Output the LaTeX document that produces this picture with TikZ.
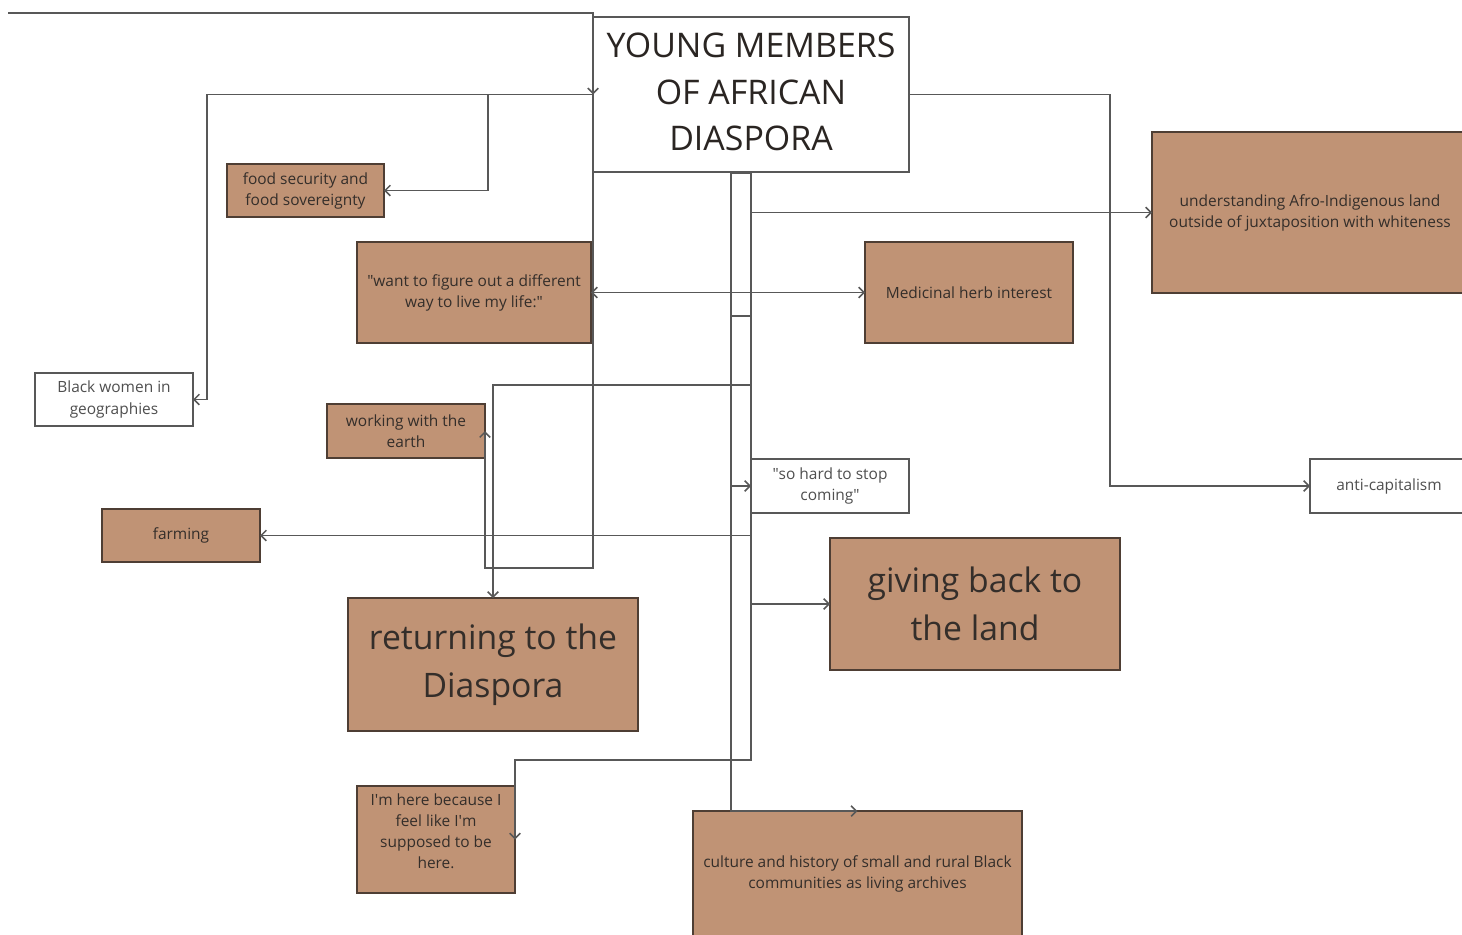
\documentclass[tikz,border=0pt]{standalone}
\usepackage{fontspec}
\setmainfont{Open Sans}
\usetikzlibrary{positioning, calc, arrows.meta}

\definecolor{clay}{RGB}{192,147,117}
\definecolor{clayedge}{RGB}{78,62,52}
\definecolor{wire}{RGB}{88,88,88}
\definecolor{ink}{RGB}{52,46,42}

\begin{document}
\begin{tikzpicture}[x=0.02cm, y=-0.02cm,
    claybox/.style={draw=clayedge, line width=0.8pt, fill=clay, text=ink, align=center, inner sep=2pt, outer sep=0pt, font=\fontsize{8.8}{12}\selectfont},
    plainbox/.style={draw=wire, line width=1pt, fill=white, text=wire!90!black, align=center, inner sep=2pt, outer sep=0pt, font=\fontsize{8.8}{12}\selectfont},
    bigtext/.style={font=\fontsize{19.2}{27.2}\selectfont},
    link/.style={draw=wire, line width=0.9pt},
    tip/.style={-{Straight Barb[length=3pt,width=6pt]}}]

    % Bild-Rahmen
    \useasboundingbox (0,0) rectangle (1462,934);
    \clip (0,0) rectangle (1462,934);

    % Hauptknoten
    \node[plainbox, text=ink!80!black, font=\fontsize{19.3}{26.4}\selectfont, minimum width=6.32cm, minimum height=3.1cm] (title) at (751,94.5) {\raisebox{0.05cm}[\height][\depth]{\parbox{6cm}{\centering YOUNG MEMBERS\\OF AFRICAN\\DIASPORA}}};

    % Knoten links
    \node[claybox, minimum width=3.14cm, minimum height=1.06cm] (food) at (305.5,190.5) {food security and\\food sovereignty};
    \node[claybox, minimum width=4.68cm, minimum height=2.02cm] (want) at (474,292.5) {\textquotedbl want to figure out a different\\way to live my life:\textquotedbl};
    \node[plainbox, minimum width=3.16cm, minimum height=1.06cm] (women) at (114,399.5) {Black women in\\geographies};
    \node[claybox, minimum width=3.16cm, minimum height=1.08cm] (earth) at (406,431) {working with the\\earth};
    \node[claybox, minimum width=3.16cm, minimum height=1.06cm] (farming) at (181,535.5) {farming};
    \node[claybox, bigtext, minimum width=5.8cm, minimum height=2.66cm] (returning) at (493,664.5) {returning to the\\Diaspora};
    \node[claybox, minimum width=3.16cm, minimum height=2.14cm] (here) at (436,839.5) {\raisebox{0.16cm}[\height][\depth]{\parbox{3cm}{\centering I\textquotesingle m here because I\\feel like I\textquotesingle m\\supposed to be\\here.}}};

    % Knoten rechts
    \node[claybox, minimum width=4.16cm, minimum height=2.02cm] (herb) at (969,292.5) {Medicinal herb interest};
    \node[claybox, minimum width=6.32cm, minimum height=3.22cm] (afro) at (1310,212.5) {understanding Afro-Indigenous land\\outside of juxtaposition with whiteness};
    \node[plainbox, minimum width=3.16cm, minimum height=1.08cm] (stop) at (830,486) {\textquotedbl so hard to stop\\coming\textquotedbl};
    \node[plainbox, minimum width=3.16cm, minimum height=1.08cm] (anticap) at (1389,486) {anti-capitalism};
    \node[claybox, bigtext, minimum width=5.8cm, minimum height=2.64cm] (giving) at (975,604) {giving back to\\the land};
    \node[claybox, minimum width=6.58cm, minimum height=2.52cm] (culture) at (857.5,874) {culture and history of small and rural Black\\communities as living archives};

    % Linie oben links
    \coordinate (topstart) at (8,13);
    \draw[link, tip] (topstart) -| (title.west);

    % links vom Titel
    \draw[link, tip] (title.west) -| ($(women.east)+(14,0)$) -- (women.east);
    \draw[link, tip] ($(title.west)+(-105,0)$) |- (food.east);
    \draw[link, tip] (title.south west) -- ++(0,396) -| (earth.east);

    % rechts vom Titel
    \draw[link, tip] (title.east) -| ($(anticap.west)+(-200,0)$) |- (anticap.west);

    % Doppelstrang unter dem Titel
    \draw[link] ($(title.south)+(-20,1)$) -- ($(title.south)+(0,1)$);
    \draw[link, tip] ($(title.south)+(-20,0)$) |- (culture.north);
    \draw[link, tip] (title.south) -- ++(0,588) -| (here.east);
    \draw[link, tip] (title.south |- 0,316) -- ++(-20,0) |- (stop.west);

    % Abzweige vom Strang
    \draw[link, tip] (title.south |- afro.west) -- (afro.west);
    \draw[link, tip] (title.south |- 0,385) -| (returning.north);
    \draw[link, tip] (title.south |- farming.east) -- (farming.east);
    \draw[link, tip] (title.south |- giving.west) -- (giving.west);

    % Pfeil in beide Richtungen
    \draw[link, {Straight Barb[length=3pt,width=6pt]}-{Straight Barb[length=3pt,width=6pt]}] (want.east) -- (herb.west);

\end{tikzpicture}
\end{document}
